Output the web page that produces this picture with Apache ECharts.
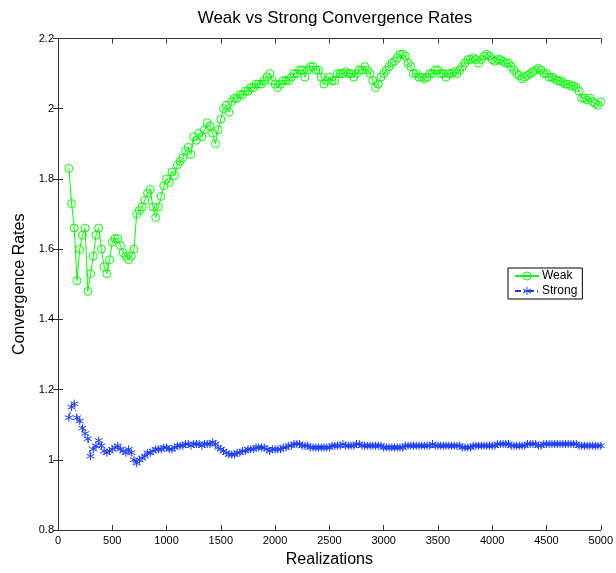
<!DOCTYPE html>
<html>
<head>
<meta charset="utf-8">
<script src="https://cdn.jsdelivr.net/npm/echarts@6/dist/echarts.min.js"></script>
<style>html,body{margin:0;padding:0;background:#fff;}#c{width:616px;height:573px;}</style>
</head>
<body>
<div id="c"></div>
<script>
// Realizations sampled every 25 starting at 100
const firstRealization = 100;
const realizationStep = 25;

const weak = [1.83,1.73,1.66,1.51,1.60,1.64,1.66,1.48,1.53,1.58,1.64,1.66,1.60,1.55,1.53,1.57,1.62,1.63,1.63,1.61,1.59,1.58,1.57,1.58,1.60,1.70,1.71,1.72,1.74,1.76,1.77,1.72,1.69,1.72,1.75,1.78,1.80,
1.79,1.82,1.81,1.84,1.85,1.86,1.88,1.89,1.87,1.92,1.91,1.93,1.92,1.94,1.96,1.95,1.93,1.90,1.94,1.97,2.00,2.01,1.99,2.02,2.03,2.03,2.04,2.04,2.05,2.05,2.06,2.06,2.07,2.07,2.07,2.08,2.09,2.10,2.08,2.07,
2.06,2.07,2.08,2.08,2.08,2.09,2.10,2.10,2.11,2.11,2.09,2.11,2.12,2.12,2.11,2.11,2.09,2.07,2.08,2.09,2.08,2.08,2.10,2.10,2.10,2.105,2.10,2.10,2.09,2.10,2.11,2.11,2.12,2.11,2.10,2.08,2.06,2.07,2.09,2.10,
2.11,2.12,2.13,2.135,2.145,2.155,2.155,2.15,2.13,2.12,2.10,2.10,2.09,2.09,2.085,2.09,2.10,2.10,2.11,2.11,2.10,2.10,2.09,2.10,2.10,2.105,2.10,2.11,2.12,2.13,2.14,2.14,2.145,2.14,2.13,2.14,2.15,2.155,2.15,2.14,
2.135,2.14,2.14,2.135,2.13,2.13,2.12,2.11,2.10,2.095,2.085,2.09,2.095,2.10,2.105,2.11,2.115,2.11,2.10,2.10,2.09,2.09,2.085,2.08,2.08,2.075,2.07,2.07,2.065,2.065,2.06,2.05,2.03,2.03,2.025,2.03,2.02,2.015,2.01,2.02];

const strong = [1.12,1.15,1.16,1.12,1.11,1.09,1.075,1.06,1.01,1.03,1.04,1.055,1.04,1.025,1.02,1.025,1.03,1.035,1.04,1.03,1.025,1.02,1.03,1.02,1.00,0.99,1.00,1.005,1.01,1.02,1.02,1.025,1.03,1.03,1.03,1.035,1.035,
1.03,1.03,1.035,1.04,1.04,1.04,1.045,1.045,1.04,1.045,1.045,1.045,1.04,1.045,1.045,1.045,1.05,1.045,1.035,1.03,1.025,1.02,1.015,1.015,1.015,1.02,1.02,1.025,1.025,1.03,1.03,1.03,1.035,1.035,1.035,1.035,1.03,1.025,1.03,1.03,
1.03,1.03,1.035,1.035,1.04,1.04,1.045,1.045,1.045,1.04,1.04,1.04,1.035,1.035,1.035,1.035,1.035,1.035,1.035,1.035,1.04,1.04,1.04,1.04,1.045,1.04,1.04,1.04,1.04,1.045,1.045,1.04,1.04,1.04,1.04,1.04,1.04,1.04,1.04,1.035,
1.035,1.035,1.035,1.035,1.035,1.035,1.035,1.04,1.04,1.04,1.04,1.04,1.04,1.04,1.04,1.04,1.04,1.045,1.04,1.04,1.04,1.04,1.04,1.04,1.04,1.04,1.04,1.04,1.035,1.035,1.035,1.035,1.04,1.04,1.04,1.04,1.04,1.04,1.04,1.04,
1.04,1.045,1.045,1.045,1.045,1.045,1.04,1.04,1.04,1.04,1.04,1.04,1.045,1.045,1.045,1.045,1.04,1.04,1.045,1.045,1.045,1.045,1.045,1.045,1.045,1.045,1.045,1.045,1.045,1.045,1.045,1.04,1.04,1.04,1.04,1.04,1.04,1.04,1.04,1.04];

const realizations = weak.map((_, i) => firstRealization + realizationStep * i);

const seriesNames = ['Weak','Strong'];
const titleText = 'Weak vs Strong Convergence Rates';
const xName = 'Realizations';
const yName = 'Convergence Rates';

const FONT = 'Liberation Sans, Arial, sans-serif';
const GREEN = '#00ff00';
const BLUE = '#1a3cff';
const AX = '#333333';

const chart = echarts.init(document.getElementById('c'), null, {renderer:'canvas'});
const pair = (arr) => realizations.map((x,i)=>[x,arr[i]]);
const asterisk = 'path://M0,-5L0,5M-4.5,-2.5L4.5,2.5M-4.5,2.5L4.5,-2.5';
const clear = 'rgba(0,0,0,0)';

const tickCommon = {show:true, inside:true, length:5, lineStyle:{color:AX}};
chart.setOption({
  animation:false,
  backgroundColor:'#fff',
  title:{text:titleText, left:330, textAlign:'center', top:5,
    textStyle:{fontFamily:FONT, fontSize:17, fontWeight:'normal', color:'#000'}},
  legend:{
    left:508, top:268, orient:'vertical', itemGap:3, itemWidth:24, itemHeight:10,
    padding:[2,5,2,6], borderColor:'#000', borderWidth:1, backgroundColor:'#fff',
    textStyle:{fontFamily:FONT, fontSize:12, color:'#000', padding:[0,0,0,-2]},
    data:[
      {name:seriesNames[0], itemStyle:{color:clear, borderColor:GREEN, borderWidth:1}},
      {name:seriesNames[1], itemStyle:{color:clear, borderColor:BLUE, borderWidth:1}}
    ]
  },
  grid:{left:58, right:15, top:38.5, bottom:40, show:false},
  xAxis:[{
    type:'value', min:0, max:5000, interval:500,
    name:xName, nameLocation:'middle', nameGap:22,
    nameTextStyle:{fontFamily:FONT, fontSize:16, color:'#000'},
    axisLine:{show:true, lineStyle:{color:AX}},
    axisTick:tickCommon, splitLine:{show:false},
    axisLabel:{fontFamily:FONT, fontSize:11, color:'#000', margin:5, formatter:(v)=>String(v)}
  },{
    type:'value', min:0, max:5000, interval:500, position:'top',
    axisLine:{show:true, lineStyle:{color:AX}}, axisTick:tickCommon,
    axisLabel:{show:false}, splitLine:{show:false}
  }],
  yAxis:[{
    type:'value', min:0.8, max:2.2, interval:0.2,
    name:yName, nameLocation:'middle', nameGap:30,
    nameTextStyle:{fontFamily:FONT, fontSize:16, color:'#000'},
    axisLine:{show:true, lineStyle:{color:AX}},
    axisTick:tickCommon, splitLine:{show:false},
    axisLabel:{fontFamily:FONT, fontSize:11, color:'#000', margin:4,
      formatter:(v)=>String(Math.round(v*10)/10)}
  },{
    type:'value', min:0.8, max:2.2, interval:0.2, position:'right',
    axisLine:{show:true, lineStyle:{color:AX}}, axisTick:tickCommon,
    axisLabel:{show:false}, splitLine:{show:false}
  }],
  series:[{
    name:seriesNames[0], type:'line', data:pair(weak),
    symbol:'circle', symbolSize:8, showAllSymbol:true,
    lineStyle:{color:GREEN, width:1},
    itemStyle:{color:clear, borderColor:GREEN, borderWidth:1}
  },{
    name:seriesNames[1], type:'line', data:pair(strong),
    symbol:asterisk, symbolSize:8, showAllSymbol:true,
    lineStyle:{color:BLUE, width:1, type:[6,3,1,3]},
    itemStyle:{color:clear, borderColor:BLUE, borderWidth:1}
  }]
});
</script>
</body>
</html>
